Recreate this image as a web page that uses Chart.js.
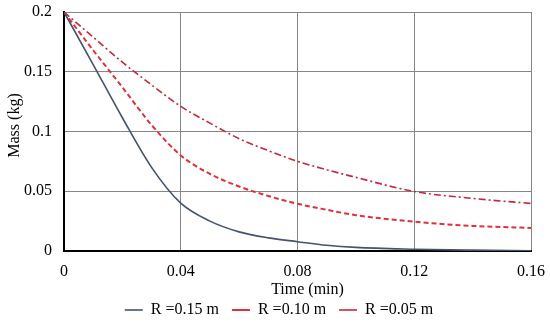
<!DOCTYPE html>
<html>
<head>
<meta charset="utf-8">
<script src="https://cdn.jsdelivr.net/npm/chart.js@4"></script>
<style>
  html, body { margin: 0; padding: 0; background: #fff; }
  #wrap { width: 550px; height: 326px; position: relative; }
</style>
</head>
<body>
<div id="wrap"><canvas id="massChart"></canvas></div>
<script>
// time in minutes, mass in kg
const time = [0, 0.01, 0.02, 0.03, 0.04, 0.05, 0.06, 0.07, 0.08, 0.09, 0.10, 0.12, 0.14, 0.16];
const massR015 = [0.2, 0.156, 0.1115, 0.070, 0.040, 0.025, 0.016, 0.011, 0.0078, 0.0048, 0.003, 0.0015, 0.0007, 0.0002];
const massR010 = [0.2, 0.168, 0.137, 0.1055, 0.080, 0.0645, 0.054, 0.046, 0.0395, 0.0345, 0.030, 0.0245, 0.021, 0.0193];
const massR005 = [0.2, 0.179, 0.158, 0.139, 0.121, 0.107, 0.094, 0.084, 0.075, 0.068, 0.0616, 0.0498, 0.044, 0.0398];
const seriesNames = ['R =0.15 m', 'R =0.10 m', 'R =0.05 m'];
const xTickLabels = ['0', '0.04', '0.08', '0.12', '0.16'];
const yTickLabels = ['0', '0.05', '0.1', '0.15', '0.2'];
const xTitle = 'Time (min)';
const yTitle = 'Mass (kg)';

const toPoints = (ys) => ys.map((y, i) => ({ x: time[i], y: y }));
const serif = '"Liberation Serif", serif';
const font = { family: serif, size: 16 };

// axis titles sit a little off-centre in the original, so draw them by hand
const axisTitles = {
    id: 'axisTitles',
    afterDraw(chart) {
        const { ctx, chartArea } = chart;
        ctx.save();
        ctx.font = '16px ' + serif;
        ctx.fillStyle = '#000';
        ctx.textAlign = 'center';
        ctx.textBaseline = 'middle';
        ctx.fillText(xTitle, (chartArea.left + chartArea.right) / 2 + 10, chartArea.bottom + 39);
        ctx.translate(15, (chartArea.top + chartArea.bottom) / 2 - 6);
        ctx.rotate(-Math.PI / 2);
        ctx.fillText(yTitle, 0, 0);
        ctx.restore();
    }
};

const chartContext = document.getElementById('massChart').getContext('2d');

new Chart(chartContext, {
    type: 'line',
    data: {
        datasets: [
            {
                label: seriesNames[0],
                data: toPoints(massR015),
                borderColor: '#44546a',
                borderWidth: 1.6,
                cubicInterpolationMode: 'monotone',
            },
            {
                label: seriesNames[1],
                data: toPoints(massR010),
                borderColor: '#e0303a',
                borderWidth: 2,
                borderDash: [5, 3],
                cubicInterpolationMode: 'monotone',
            },
            {
                label: seriesNames[2],
                data: toPoints(massR005),
                borderColor: '#c4283a',
                borderWidth: 1.6,
                borderDash: [7, 3, 2, 3],
                cubicInterpolationMode: 'monotone',
            }
        ]
    },
    options: {
        responsive: true,
        maintainAspectRatio: false,
        animation: false,
        elements: { point: { radius: 0 } },
        layout: { padding: { left: 8, right: 0, top: 12, bottom: -2 } },
        scales: {
            x: {
                type: 'linear',
                min: 0,
                max: 0.16,
                ticks: {
                    stepSize: 0.04,
                    color: '#000',
                    font: { family: serif, size: 16, lineHeight: 2 },
                    padding: 5,
                    maxRotation: 0,
                    callback: (v, i) => xTickLabels[i],
                },
                grid: { color: '#868686', lineWidth: 1, drawTicks: false },
                border: { color: '#000', width: 2 },
                afterFit: (scale) => { scale.height = 38; },
            },
            y: {
                min: 0,
                max: 0.2,
                ticks: {
                    stepSize: 0.05,
                    color: '#000',
                    font: { family: serif, size: 16, lineHeight: 0 },
                    padding: 12,
                    callback: (v, i) => yTickLabels[i],
                },
                grid: { color: '#868686', lineWidth: 1, drawTicks: false },
                border: { color: '#000', width: 2 },
                afterFit: (scale) => { scale.width = 56; },
            },
        },
        plugins: {
            legend: {
                position: 'bottom',
                labels: {
                    color: '#000',
                    font: font,
                    usePointStyle: true,
                    pointStyle: 'line',
                    pointStyleWidth: 18,
                    padding: 13,
                },
            },
            tooltip: { enabled: false },
        },
    },
    plugins: [axisTitles],
});
</script>
</body>
</html>
